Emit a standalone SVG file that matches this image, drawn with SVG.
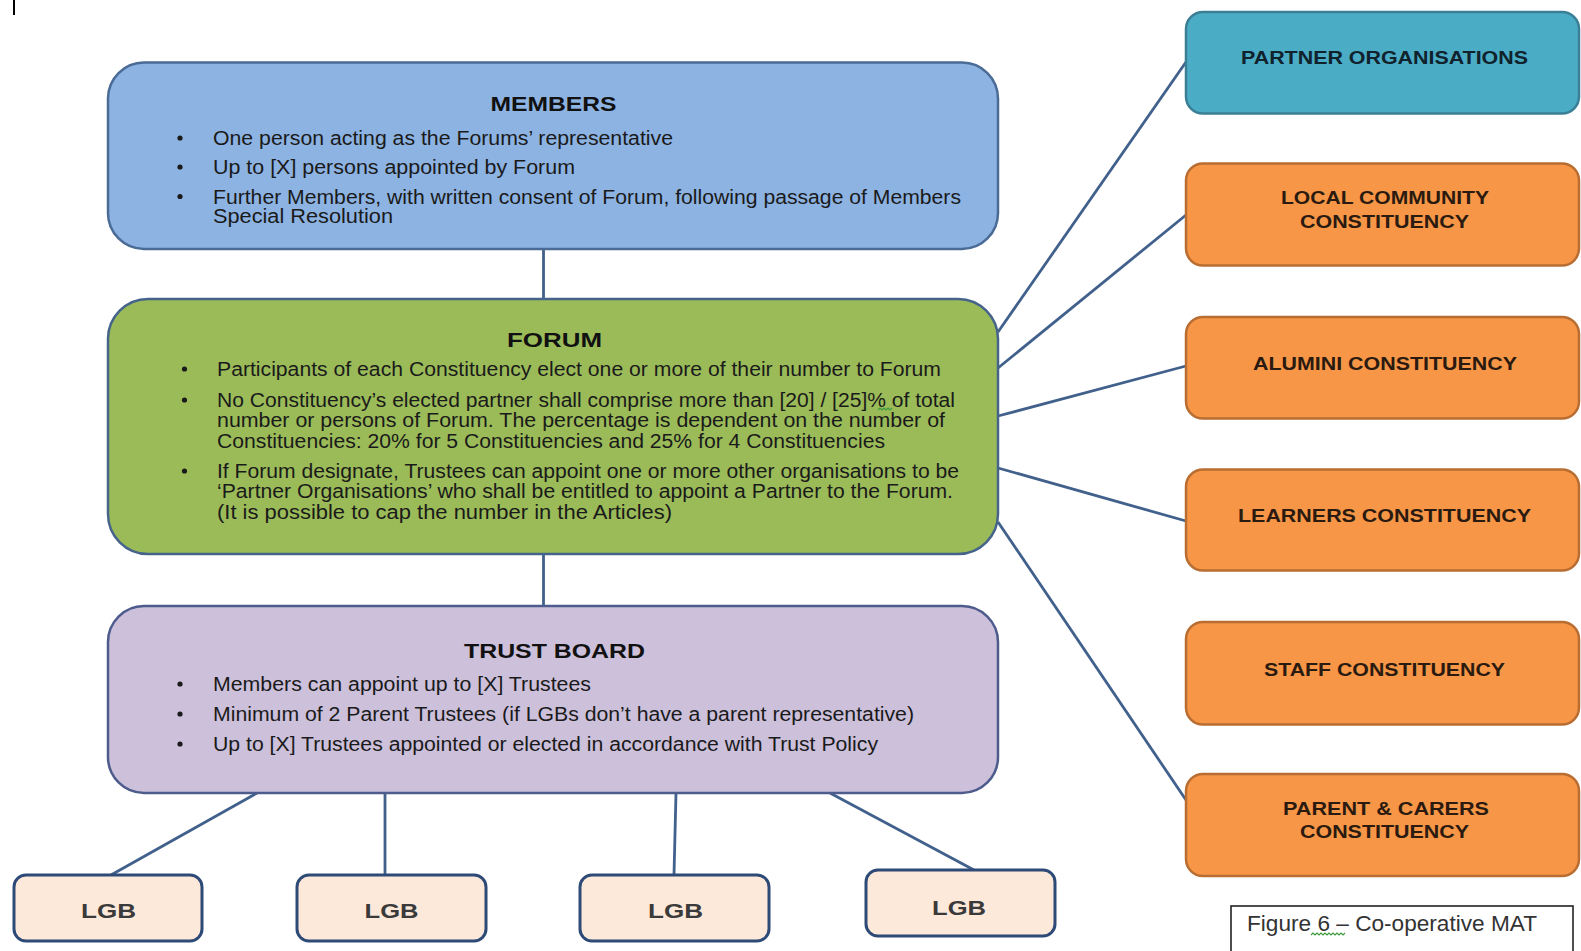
<svg xmlns="http://www.w3.org/2000/svg" width="1581" height="951" viewBox="0 0 1581 951">
<style>
  .bg{fill:#ffffff}
  .box{stroke-width:2.5}
  .members{fill:#8DB3E2;stroke:#4A6B96}
  .forum{fill:#9BBB59;stroke:#46648A}
  .trust{fill:#CCC0DA;stroke:#4D5C8C}
  .lgb{fill:#FDE9D9;stroke:#2E4A76;stroke-width:3}
  .partner{fill:#4BACC6;stroke:#3A7F95;stroke-width:2.5}
  .orange{fill:#F79646;stroke:#B86E32;stroke-width:2.5}
  .conn{stroke:#41618C;stroke-width:2.8;fill:none}
  .title{font-family:"Liberation Sans",Arial,sans-serif;font-weight:bold;font-size:20px;fill:#111;text-anchor:middle}
  .body{font-family:"Liberation Sans",Arial,sans-serif;font-size:20px;fill:#1a1a1a}
  .bullet{fill:#1a1a1a}
  .rlabel{font-family:"Liberation Sans",Arial,sans-serif;font-weight:bold;font-size:18.5px;fill:#2a1a10;text-anchor:middle}
  .plabel{font-family:"Liberation Sans",Arial,sans-serif;font-weight:bold;font-size:18.5px;fill:#10222c;text-anchor:middle}
  .lgbt{font-family:"Liberation Sans",Arial,sans-serif;font-weight:bold;font-size:21px;fill:#3a3a3a;text-anchor:middle}
  .caption{font-family:"Liberation Sans",Arial,sans-serif;font-size:22px;fill:#333}
  .squig{stroke:#3C9A3C;stroke-width:1.2;fill:none}
</style>
<rect class="bg" x="0" y="0" width="1581" height="951"/>
<line x1="14" y1="0" x2="14" y2="15" stroke="#000" stroke-width="2"/>

<g id="connectors">
  <line class="conn" x1="543.5" y1="249" x2="543.5" y2="299"/>
  <line class="conn" x1="543.5" y1="554" x2="543.5" y2="606"/>
  <line class="conn" x1="257" y1="793" x2="111" y2="875"/>
  <line class="conn" x1="385" y1="793" x2="385" y2="875"/>
  <line class="conn" x1="676" y1="793" x2="674" y2="875"/>
  <line class="conn" x1="830" y1="793" x2="974" y2="870"/>
  <line class="conn" x1="998" y1="332" x2="1186" y2="62"/>
  <line class="conn" x1="998" y1="368" x2="1186" y2="215"/>
  <line class="conn" x1="998" y1="416" x2="1186" y2="366"/>
  <line class="conn" x1="998" y1="468" x2="1186" y2="521"/>
  <line class="conn" x1="998" y1="522" x2="1186" y2="800"/>
</g>

<g id="members">
  <rect class="box members" x="108" y="62.5" width="890" height="186.5" rx="36" ry="36"/>
  <text class="title" x="553.5" y="111" textLength="126" lengthAdjust="spacingAndGlyphs">MEMBERS</text>
  <circle class="bullet" cx="180" cy="138" r="2.6"/>
  <circle class="bullet" cx="180" cy="167" r="2.6"/>
  <circle class="bullet" cx="180" cy="196.5" r="2.6"/>
  <text class="body" x="213" y="145" textLength="460" lengthAdjust="spacingAndGlyphs">One person acting as the Forums’ representative</text>
  <text class="body" x="213" y="174" textLength="362" lengthAdjust="spacingAndGlyphs">Up to [X] persons appointed by Forum</text>
  <text class="body" x="213" y="203.5" textLength="748" lengthAdjust="spacingAndGlyphs">Further Members, with written consent of Forum, following passage of Members</text>
  <text class="body" x="213" y="222.5" textLength="180" lengthAdjust="spacingAndGlyphs">Special Resolution</text>
</g>

<g id="forum">
  <rect class="box forum" x="108" y="299" width="890" height="255" rx="40" ry="40"/>
  <text class="title" x="554.5" y="347" textLength="95" lengthAdjust="spacingAndGlyphs">FORUM</text>
  <circle class="bullet" cx="184.5" cy="369" r="2.6"/>
  <circle class="bullet" cx="184.5" cy="400" r="2.6"/>
  <circle class="bullet" cx="184.5" cy="471" r="2.6"/>
  <text class="body" x="217" y="376" textLength="724" lengthAdjust="spacingAndGlyphs">Participants of each Constituency elect one or more of their number to Forum</text>
  <text class="body" x="217" y="407" textLength="738" lengthAdjust="spacingAndGlyphs">No Constituency’s elected partner shall comprise more than [20] / [25]% of total</text>
  <text class="body" x="217" y="426.5" textLength="728" lengthAdjust="spacingAndGlyphs">number or persons of Forum.  The percentage is dependent on the number of</text>
  <text class="body" x="217" y="447.5" textLength="668" lengthAdjust="spacingAndGlyphs">Constituencies: 20% for 5 Constituencies and 25% for 4 Constituencies</text>
  <text class="body" x="217" y="478" textLength="742" lengthAdjust="spacingAndGlyphs">If Forum designate, Trustees can appoint one or more other organisations to be</text>
  <text class="body" x="217" y="498" textLength="736" lengthAdjust="spacingAndGlyphs">‘Partner Organisations’ who shall be entitled to appoint a Partner to the Forum.</text>
  <text class="body" x="217" y="519" textLength="455" lengthAdjust="spacingAndGlyphs">(It is possible to cap the number in the Articles)</text>
  <path class="squig" d="M878 410 l2 -2 l2 2 l2 -2 l2 2 l2 -2 l2 2 l2 -2"/>
</g>

<g id="trust-board">
  <rect class="box trust" x="108" y="606" width="890" height="187" rx="36" ry="36"/>
  <text class="title" x="554.5" y="658" textLength="181" lengthAdjust="spacingAndGlyphs">TRUST BOARD</text>
  <circle class="bullet" cx="180" cy="684" r="2.6"/>
  <circle class="bullet" cx="180" cy="714" r="2.6"/>
  <circle class="bullet" cx="180" cy="744" r="2.6"/>
  <text class="body" x="213" y="690.5" textLength="378" lengthAdjust="spacingAndGlyphs">Members can appoint up to [X] Trustees</text>
  <text class="body" x="213" y="721" textLength="701" lengthAdjust="spacingAndGlyphs">Minimum of 2 Parent Trustees (if LGBs don’t have a parent representative)</text>
  <text class="body" x="213" y="751" textLength="665" lengthAdjust="spacingAndGlyphs">Up to [X] Trustees appointed or elected in accordance with Trust Policy</text>
</g>

<g id="lgb-1">
  <rect class="lgb" x="14" y="875" width="188" height="66" rx="12" ry="12"/>
  <text class="lgbt" x="108.5" y="918" textLength="55" lengthAdjust="spacingAndGlyphs">LGB</text>
</g>
<g id="lgb-2">
  <rect class="lgb" x="297" y="875" width="189" height="66" rx="12" ry="12"/>
  <text class="lgbt" x="391.5" y="918" textLength="54" lengthAdjust="spacingAndGlyphs">LGB</text>
</g>
<g id="lgb-3">
  <rect class="lgb" x="580" y="875" width="189" height="66" rx="12" ry="12"/>
  <text class="lgbt" x="675.5" y="918" textLength="55" lengthAdjust="spacingAndGlyphs">LGB</text>
</g>
<g id="lgb-4">
  <rect class="lgb" x="866" y="870" width="189" height="66" rx="12" ry="12"/>
  <text class="lgbt" x="959" y="914.5" textLength="54" lengthAdjust="spacingAndGlyphs">LGB</text>
</g>

<g id="partner-organisations">
  <rect class="partner" x="1186" y="12" width="393" height="101.5" rx="17" ry="17"/>
  <text class="plabel" x="1384.5" y="64" textLength="287" lengthAdjust="spacingAndGlyphs">PARTNER ORGANISATIONS</text>
</g>
<g id="local-community">
  <rect class="orange" x="1186" y="163.5" width="393" height="102" rx="17" ry="17"/>
  <text class="rlabel" x="1385" y="204" textLength="208" lengthAdjust="spacingAndGlyphs">LOCAL COMMUNITY</text>
  <text class="rlabel" x="1384.5" y="228" textLength="169" lengthAdjust="spacingAndGlyphs">CONSTITUENCY</text>
</g>
<g id="alumini">
  <rect class="orange" x="1186" y="317" width="393" height="101.5" rx="17" ry="17"/>
  <text class="rlabel" x="1385" y="370" textLength="264" lengthAdjust="spacingAndGlyphs">ALUMINI CONSTITUENCY</text>
</g>
<g id="learners">
  <rect class="orange" x="1186" y="469.5" width="393" height="101" rx="17" ry="17"/>
  <text class="rlabel" x="1384.5" y="522" textLength="293" lengthAdjust="spacingAndGlyphs">LEARNERS CONSTITUENCY</text>
</g>
<g id="staff">
  <rect class="orange" x="1186" y="622" width="393" height="102.5" rx="17" ry="17"/>
  <text class="rlabel" x="1384.5" y="676" textLength="241" lengthAdjust="spacingAndGlyphs">STAFF CONSTITUENCY</text>
</g>
<g id="parent-carers">
  <rect class="orange" x="1186" y="774" width="393" height="102" rx="17" ry="17"/>
  <text class="rlabel" x="1386" y="815" textLength="206" lengthAdjust="spacingAndGlyphs">PARENT &amp; CARERS</text>
  <text class="rlabel" x="1384.5" y="838" textLength="169" lengthAdjust="spacingAndGlyphs">CONSTITUENCY</text>
</g>

<g id="caption">
  <rect x="1231" y="906" width="342" height="60" fill="#fff" stroke="#222" stroke-width="1.6"/>
  <text class="caption" x="1247" y="930.5" textLength="290" lengthAdjust="spacingAndGlyphs">Figure 6 –  Co-operative MAT</text>
  <path class="squig" d="M1311 935 l2 -2 l2 2 l2 -2 l2 2 l2 -2 l2 2 l2 -2 l2 2 l2 -2 l2 2 l2 -2 l2 2 l2 -2 l2 2 l2 -2 l2 2 l2 -2"/>
</g>
</svg>
